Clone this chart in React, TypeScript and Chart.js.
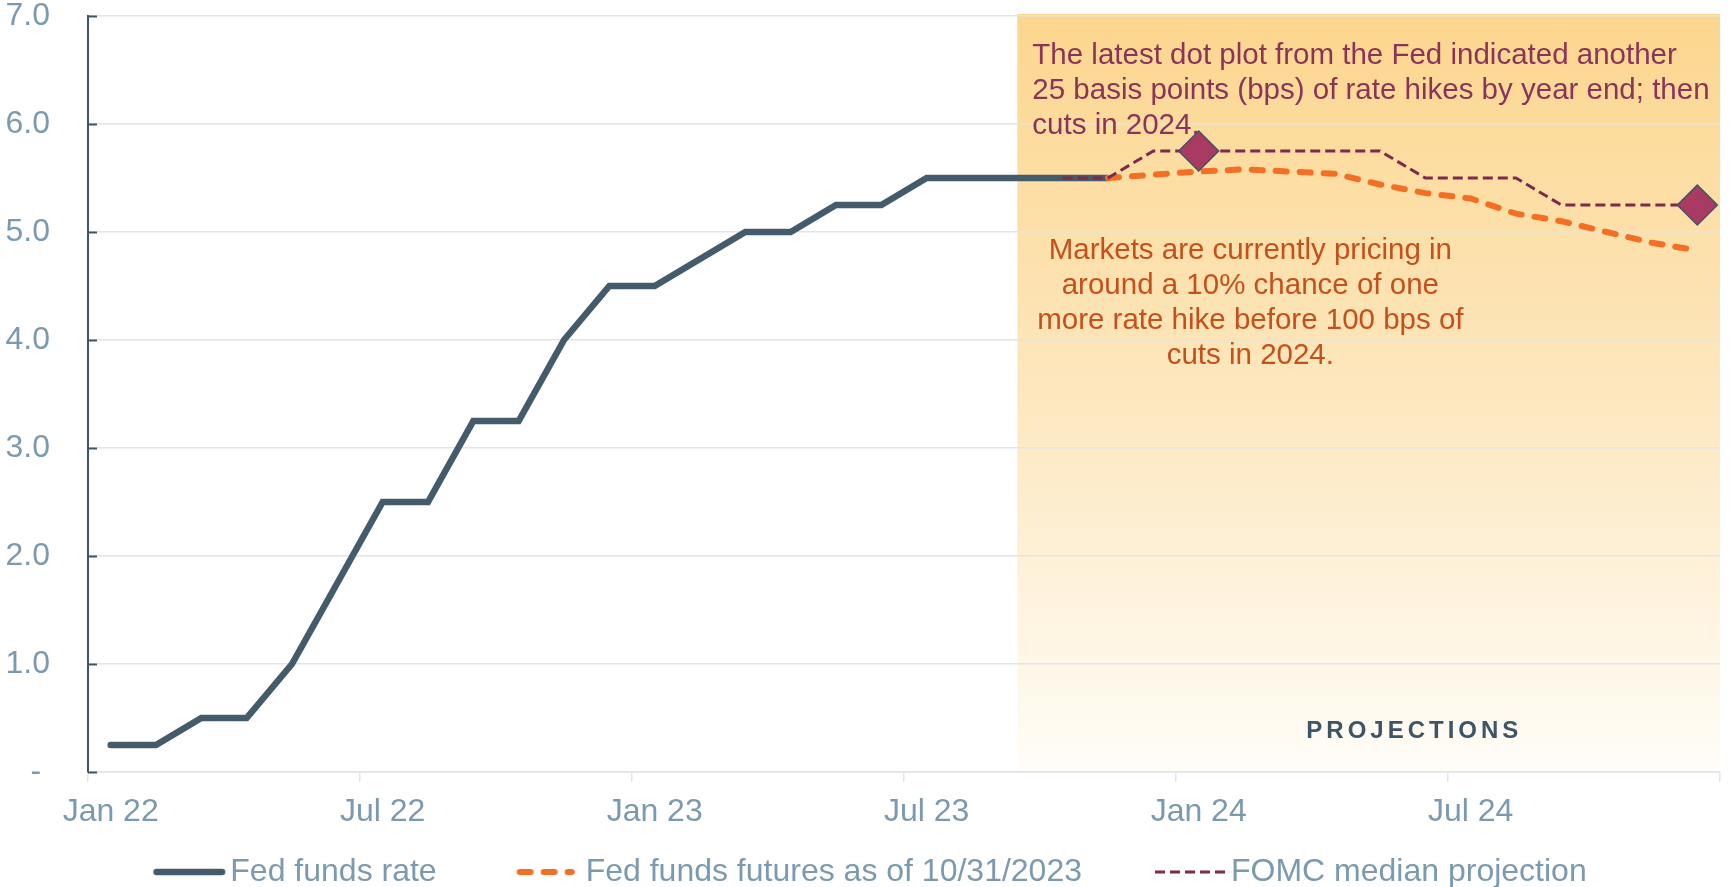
import React, { useEffect, useRef } from 'react';
import { Chart, registerables } from 'chart.js';

Chart.register(...registerables);

// ---------- Data ----------
const months = [
  'Jan 22', 'Feb 22', 'Mar 22', 'Apr 22', 'May 22', 'Jun 22', 'Jul 22', 'Aug 22', 'Sep 22', 'Oct 22', 'Nov 22', 'Dec 22',
  'Jan 23', 'Feb 23', 'Mar 23', 'Apr 23', 'May 23', 'Jun 23', 'Jul 23', 'Aug 23', 'Sep 23', 'Oct 23', 'Nov 23', 'Dec 23',
  'Jan 24', 'Feb 24', 'Mar 24', 'Apr 24', 'May 24', 'Jun 24', 'Jul 24', 'Aug 24', 'Sep 24', 'Oct 24', 'Nov 24', 'Dec 24',
];
const shownTickMonths = ['Jan 22', 'Jul 22', 'Jan 23', 'Jul 23', 'Jan 24', 'Jul 24'];

const fedFundsStart = 'Jan 22';
const fedFundsRate = [0.25, 0.25, 0.5, 0.5, 1.0, 1.75, 2.5, 2.5, 3.25, 3.25, 4.0, 4.5, 4.5, 4.75, 5.0, 5.0, 5.25, 5.25, 5.5, 5.5, 5.5, 5.5, 5.5];

const futuresStart = 'Nov 23';
const futures = [5.5, 5.53, 5.56, 5.58, 5.56, 5.54, 5.44, 5.36, 5.31, 5.17, 5.1, 5.0, 4.9, 4.83];

const fomcStart = 'Oct 23';
const fomcMedian = [5.5, 5.5, 5.75, 5.75, 5.75, 5.75, 5.75, 5.75, 5.5, 5.5, 5.5, 5.25, 5.25, 5.25, 5.25];

const dotPlotMonths = ['Jan 24', 'Dec 24'];
const dotPlotValues = [5.75, 5.25];

const projectionStart = 'Sep 23';

const seriesLabels = ['Fed funds rate', 'Fed funds futures as of 10/31/2023', 'FOMC median projection', 'FOMC dot plot'];

const noteFed = [
  'The latest dot plot from the Fed indicated another',
  '25 basis points (bps) of rate hikes by year end; then',
  'cuts in 2024.',
];
const noteMarkets = [
  'Markets are currently pricing in',
  'around a 10% chance of one',
  'more rate hike before 100 bps of',
  'cuts in 2024.',
];
const projectionsLabel = 'PROJECTIONS';

// ---------- Styles ----------
const FONT = "'Liberation Sans', Arial, Helvetica, sans-serif";
const tickColor = '#7B9AAF';
const gridColor = '#DFE5EA';
const axisColor = '#3E5566';
const darkLine = '#435B6B';
const orange = '#F36F24';
const purple = '#7D2A4C';
const diamondFill = '#A93A62';
const maroonText = '#8A3459';
const orangeText = '#C5501C';

const LEGEND_PAD = 68;
const LEGEND_FONT = 32;
const LEGEND_BOX = 65;
// legend sample: [length, gap before text]
const legendSampleLen = [72, 58, 71];
const legendSampleGap = [5, 11, 5];

function align(start: string, values: number[]): (number | null)[] {
  const s = months.indexOf(start);
  return months.map((_, i) => (i >= s && i - s < values.length ? values[i - s] : null));
}

function makeSample(ds: any, len: number, gap: number): HTMLCanvasElement {
  // Chart.js centres the image at x + LEGEND_BOX/2 and starts the text at x + LEGEND_BOX + font/2
  const centre = LEGEND_BOX / 2;
  const end = LEGEND_BOX + LEGEND_FONT / 2 - gap;
  const start = end - len;
  const half = Math.max(end - centre, centre - start) + 2;
  const c = document.createElement('canvas');
  c.width = Math.ceil(half * 2);
  c.height = 14;
  const g = c.getContext('2d')!;
  const off = centre - half;
  g.strokeStyle = ds.borderColor;
  g.lineWidth = ds.borderWidth;
  g.lineCap = ds.borderCapStyle || 'butt';
  g.setLineDash(ds.borderDash || []);
  const capPad = g.lineCap === 'round' ? ds.borderWidth / 2 : 0;
  g.beginPath();
  g.moveTo(start - off + capPad, 7);
  g.lineTo(end - off - capPad, 7);
  g.stroke();
  return c;
}

const layoutPlugin = {
  id: 'layoutTweak',
  beforeLayout(chart: any) {
    const lg = chart.legend;
    if (lg && !lg.__patched) {
      const orig = lg.fit;
      lg.fit = function () {
        orig.call(this);
        this.height = 55;
      };
      lg.__patched = true;
    }
  },
  afterLayout(chart: any) {
    const lg = chart.legend;
    if (lg) {
      // items are drawn at top + padding; place their centre near the canvas bottom
      lg.top = lg.bottom - (LEGEND_PAD + 31);
      lg.left += 8;
      lg.right += 8;
    }
  },
};

const shadePlugin = {
  id: 'shade',
  beforeDraw(chart: any) {
    const { ctx, chartArea, scales } = chart;
    const x0 = scales.x.getPixelForValue(months.indexOf(projectionStart));
    const top = chartArea.top - 2;
    const bottom = chartArea.bottom;
    const g = ctx.createLinearGradient(0, top, 0, bottom);
    g.addColorStop(0, '#FCD68E');
    g.addColorStop(0.5, '#FDE7BE');
    g.addColorStop(1, '#FFFDF8');
    ctx.save();
    ctx.fillStyle = g;
    ctx.fillRect(x0, top, chartArea.right - x0, bottom - top);
    ctx.restore();
  },
};

const notesPlugin = {
  id: 'notes',
  beforeDatasetsDraw(chart: any) {
    const { ctx, chartArea, scales } = chart;
    const y = scales.y;
    ctx.save();
    // inner y tick marks
    ctx.strokeStyle = axisColor;
    ctx.lineWidth = 2;
    y.ticks.forEach((t: any) => {
      const py = Math.round(y.getPixelForValue(t.value)) + 0.5;
      ctx.beginPath();
      ctx.moveTo(chartArea.left, py);
      ctx.lineTo(chartArea.left + 9, py);
      ctx.stroke();
    });
    const x0 = scales.x.getPixelForValue(months.indexOf(projectionStart));
    ctx.font = `29.5px ${FONT}`;
    ctx.textBaseline = 'alphabetic';
    ctx.fillStyle = maroonText;
    ctx.textAlign = 'left';
    noteFed.forEach((line, i) => ctx.fillText(line, x0 + 15, chartArea.top + 48 + i * 35));
    ctx.fillStyle = orangeText;
    ctx.textAlign = 'center';
    noteMarkets.forEach((line, i) => ctx.fillText(line, x0 + 233, chartArea.top + 243 + i * 35));
    ctx.fillStyle = axisColor;
    ctx.font = `bold 24px ${FONT}`;
    (ctx as any).letterSpacing = '4px';
    ctx.textBaseline = 'middle';
    ctx.fillText(projectionsLabel, x0 + 397, chartArea.bottom - 41);
    ctx.restore();
  },
};

export default function App() {
  const ref = useRef<HTMLCanvasElement | null>(null);
  useEffect(() => {
    if (!ref.current) return;
    const dots = months.map((m) => {
      const k = dotPlotMonths.indexOf(m);
      return k >= 0 ? dotPlotValues[k] : null;
    });
    const datasets: any[] = [
      {
        label: seriesLabels[0],
        data: align(fedFundsStart, fedFundsRate),
        borderColor: darkLine,
        backgroundColor: darkLine,
        borderWidth: 6.5,
        borderCapStyle: 'round',
        borderJoinStyle: 'miter',
        pointRadius: 0,
        order: 3,
      },
      {
        label: seriesLabels[1],
        data: align(futuresStart, futures),
        borderColor: orange,
        backgroundColor: orange,
        borderWidth: 6,
        borderDash: [11, 13],
        borderCapStyle: 'round',
        pointRadius: 0,
        order: 2,
      },
      {
        label: seriesLabels[2],
        data: align(fomcStart, fomcMedian),
        borderColor: purple,
        backgroundColor: purple,
        borderWidth: 3,
        borderDash: [10, 5],
        pointRadius: 0,
        order: 1,
      },
      {
        label: seriesLabels[3],
        data: dots,
        showLine: false,
        pointStyle: 'rectRot',
        pointRadius: 20,
        pointBackgroundColor: diamondFill,
        pointBorderColor: axisColor,
        pointBorderWidth: 1.5,
        order: 0,
      },
    ];
    const samples = datasets.slice(0, 3).map((ds, i) => makeSample(ds, legendSampleLen[i], legendSampleGap[i]));
    const chart = new Chart(ref.current, {
      type: 'line',
      data: { labels: months, datasets },
      options: {
        animation: false,
        responsive: true,
        maintainAspectRatio: false,
        events: [],
        layout: { autoPadding: false, padding: { left: 0, right: 15, top: 16, bottom: 0 } },
        scales: {
          x: {
            type: 'category',
            offset: true,
            grid: {
              offset: true,
              drawOnChartArea: false,
              drawTicks: true,
              tickLength: 10,
              lineWidth: 1.5,
              color: (c: any) =>
                c.index === undefined || shownTickMonths.includes(months[c.index]) ? gridColor : 'rgba(0,0,0,0)',
            },
            border: { color: gridColor, width: 1.5 },
            ticks: {
              autoSkip: false,
              maxRotation: 0,
              minRotation: 0,
              padding: 11,
              color: tickColor,
              font: { size: 32, family: FONT },
              callback: (_v: any, i: number) => (shownTickMonths.includes(months[i]) ? months[i] : ''),
            },
            afterFit: (s: any) => {
              s.height = 60;
            },
          },
          y: {
            min: 0,
            max: 7,
            grid: { color: gridColor, lineWidth: 1.5, drawTicks: true, tickLength: 38, tickColor: 'rgba(0,0,0,0)' },
            border: { color: axisColor, width: 2 },
            ticks: {
              stepSize: 1,
              padding: 0,
              color: tickColor,
              font: { size: 32, family: FONT, lineHeight: 1 },
              callback: (v: any) => (Number(v) === 0 ? '- ' : Number(v).toFixed(1)),
            },
            afterFit: (s: any) => {
              s.width = 88;
            },
          },
        },
        plugins: {
          tooltip: { enabled: false },
          legend: {
            position: 'bottom',
            labels: {
              usePointStyle: true,
              pointStyleWidth: LEGEND_BOX,
              padding: LEGEND_PAD,
              color: tickColor,
              font: { size: LEGEND_FONT, family: FONT },
              generateLabels: (ch: any) =>
                ch.data.datasets.slice(0, 3).map((ds: any, i: number) => ({
                  text: ds.label,
                  fillStyle: 'rgba(0,0,0,0)',
                  strokeStyle: ds.borderColor,
                  lineWidth: 1,
                  pointStyle: samples[i],
                  hidden: false,
                  fontColor: tickColor,
                  datasetIndex: i,
                })),
            },
          },
        },
      } as any,
      plugins: [layoutPlugin, shadePlugin, notesPlugin],
    });
    return () => chart.destroy();
  }, []);
  return (
    <div style={{ position: 'fixed', left: 0, top: 0, width: '100vw', height: '100vh' }}>
      <canvas ref={ref} />
    </div>
  );
}
